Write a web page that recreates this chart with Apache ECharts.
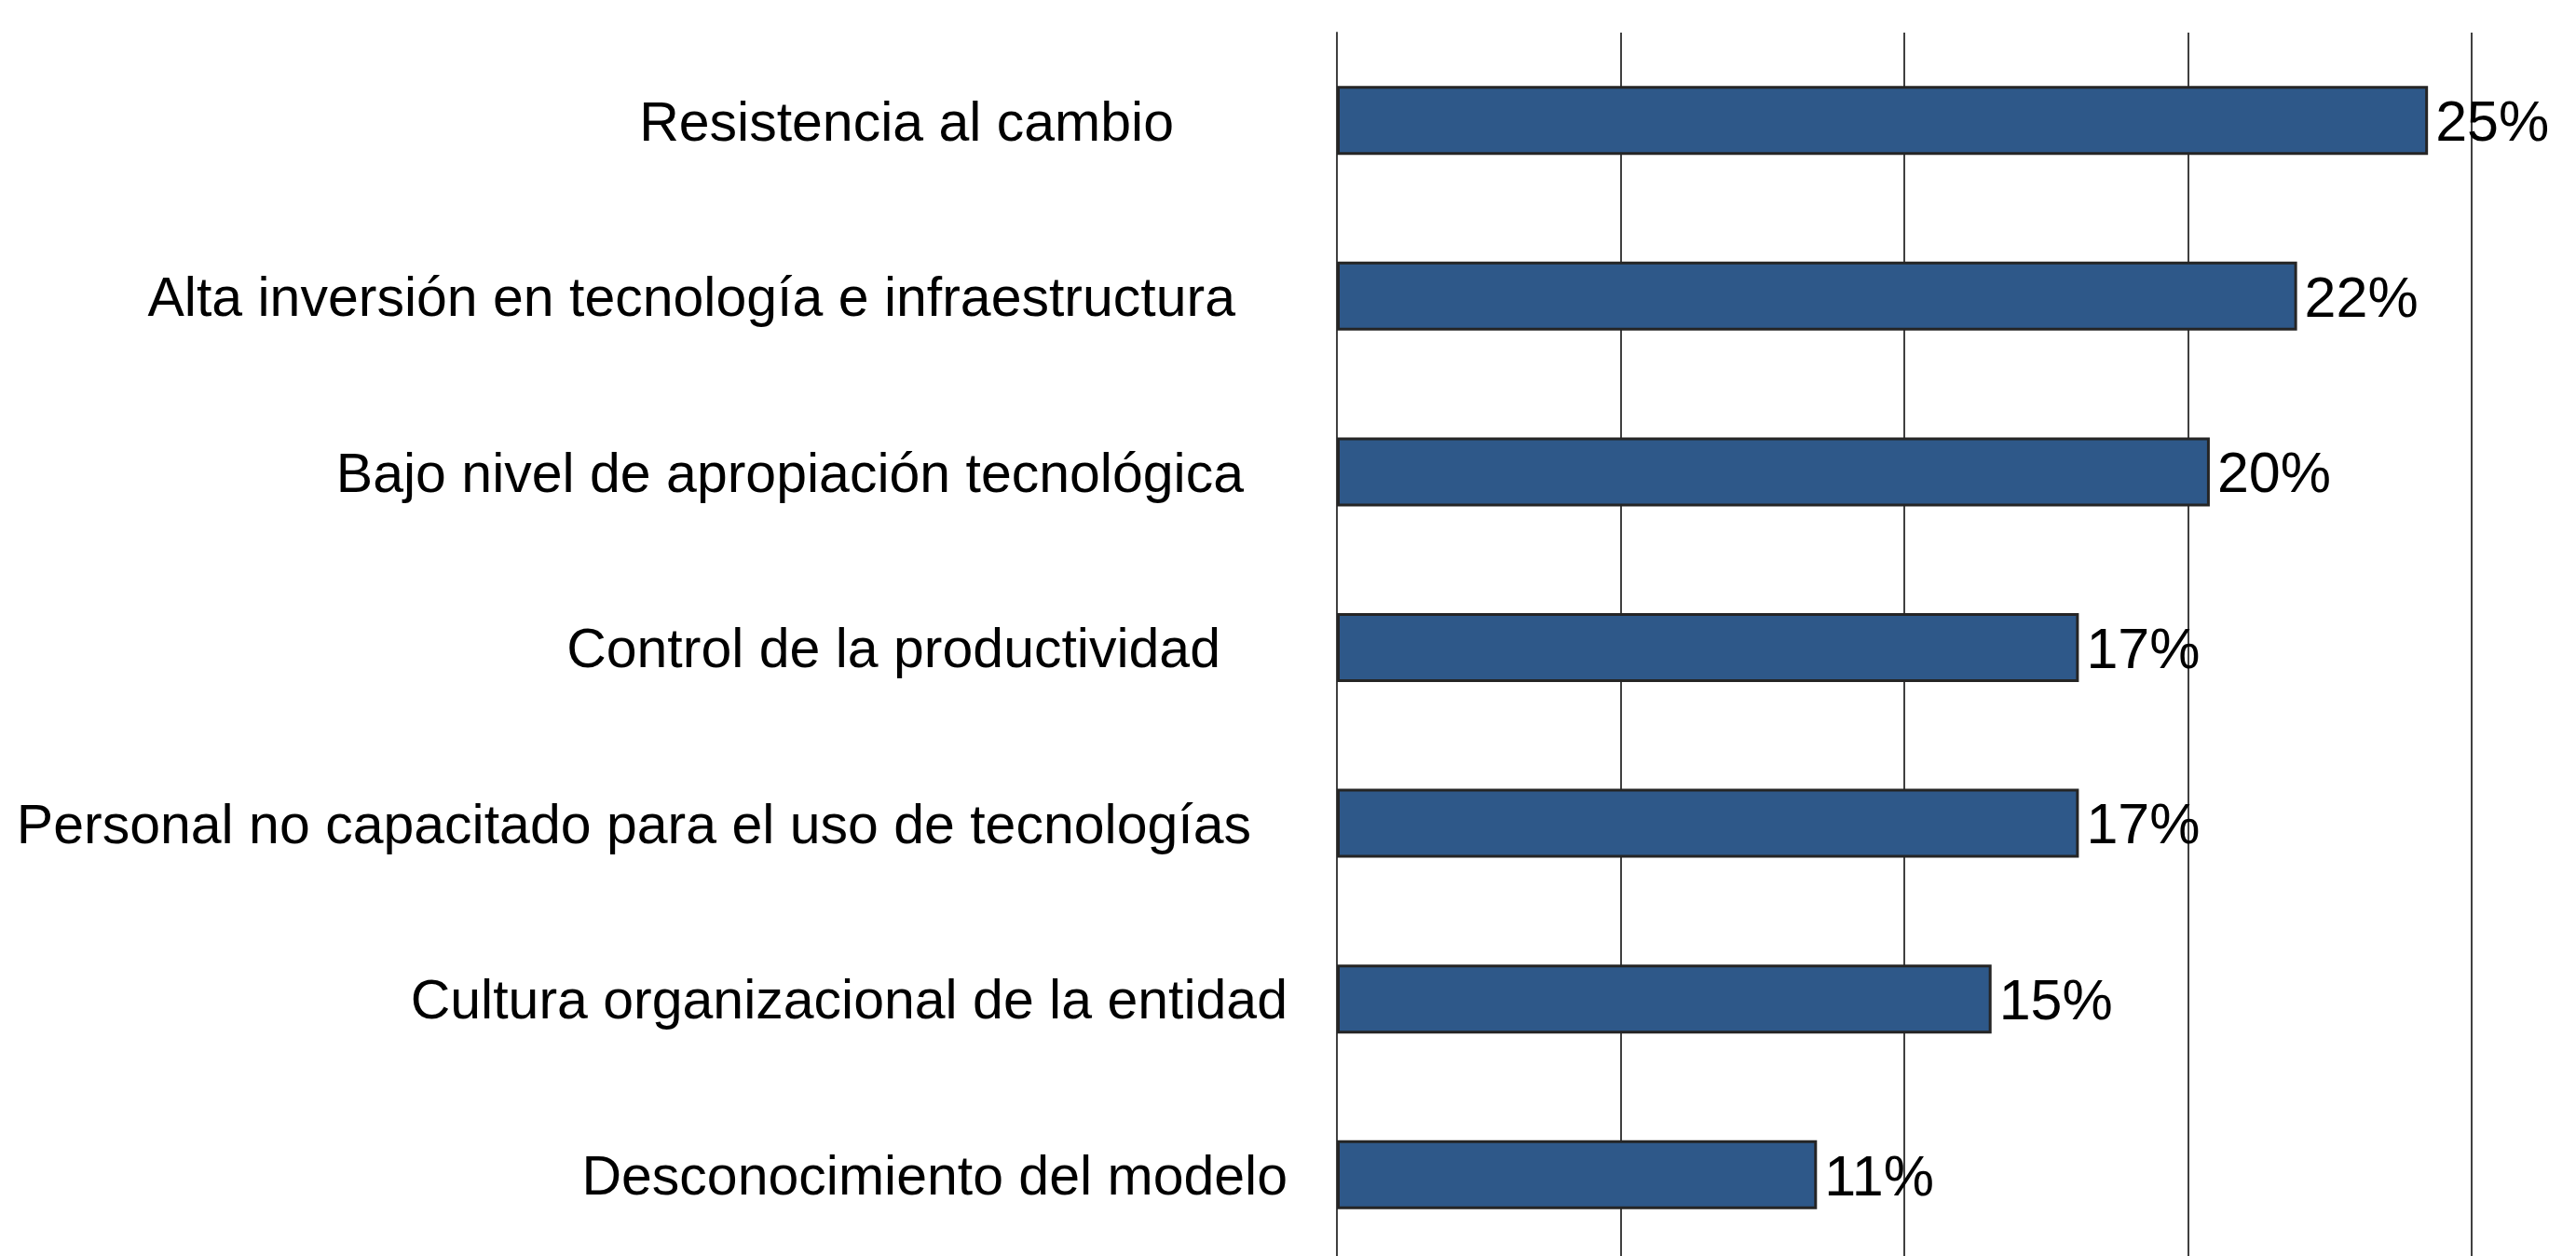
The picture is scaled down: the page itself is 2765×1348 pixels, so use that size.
<!DOCTYPE html>
<html>
<head>
<meta charset="utf-8">
<script src="https://cdn.jsdelivr.net/npm/echarts@6/dist/echarts.min.js"></script>
<style>
  html, body { margin: 0; padding: 0; background: #fff; overflow: hidden; }
  /* the plot area runs a little past the bottom edge of the picture */
  #chart { width: 2765px; height: 1356px; }
</style>
</head>
<body>
<div id="chart"></div>
<script>
// categories, top to bottom
const categories = [
  'Resistencia al cambio',
  'Alta inversión en tecnología e infraestructura',
  'Bajo nivel de apropiación tecnológica',
  'Control de la productividad',
  'Personal no capacitado para el uso de tecnologías',
  'Cultura organizacional de la entidad',
  'Desconocimiento del modelo'
];
// percentages
const values = [25, 22, 20, 17, 17, 15, 11];
// axis range (no tick labels shown, 4 gridlines)
const axisMax = 26;
const axisStep = 6.5;

// the original labels sit at uneven distances from the axis (trailing blanks)
const labelExtra = [122, 56, 47, 72, 39, 0, 0];

const FONT = '"Liberation Sans", Arial, Helvetica, sans-serif';

const rich = {};
labelExtra.forEach((p, i) => {
  // top padding nudges the text a little lower, like the original
  rich['c' + i] = { fontFamily: FONT, fontSize: 59, color: '#000', padding: [10, p, 0, 0] };
});

const el = document.getElementById('chart');
const inst = echarts.init(el, null, { renderer: 'canvas' });
inst.setOption({
  animation: false,
  backgroundColor: '#fff',
  grid: { left: 1435, width: 1218, top: 35, bottom: 1 },
  xAxis: {
    type: 'value',
    min: 0,
    max: axisMax,
    interval: axisStep,
    axisLabel: { show: false },
    axisTick: { show: false },
    axisLine: { show: false },
    splitLine: { show: true, lineStyle: { color: '#404040', width: 2 } }
  },
  yAxis: {
    type: 'category',
    inverse: true,
    data: categories,
    axisTick: { show: false },
    axisLine: { show: true, lineStyle: { color: '#404040', width: 2 } },
    axisLabel: {
      margin: 53,
      formatter: (v, i) => `{c${i}|${v}}`,
      rich
    }
  },
  series: [{
    type: 'bar',
    data: values,
    barWidth: 74,
    itemStyle: { color: '#2E5889', borderColor: '#252525', borderWidth: 3 },
    label: {
      show: true,
      position: 'right',
      distance: 8,
      offset: [0, 5],
      formatter: p => `${p.value}%`,
      fontFamily: FONT,
      fontSize: 61,
      color: '#000'
    }
  }]
});
</script>
</body>
</html>
